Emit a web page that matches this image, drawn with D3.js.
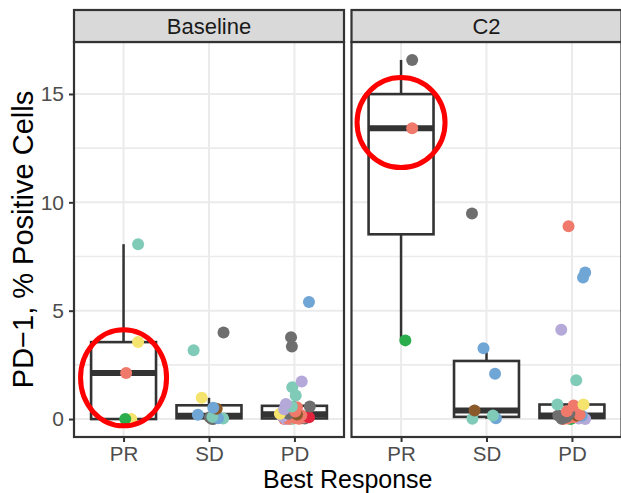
<!DOCTYPE html>
<html>
<head>
<meta charset="utf-8">
<script src="https://cdn.jsdelivr.net/npm/d3@7"></script>
<style>
  body { margin: 0; background: #fff; }
  svg { display: block; }
  text { font-family: "Liberation Sans", Arial, Helvetica, sans-serif; }
</style>
</head>
<body>
<svg id="chart" width="621" height="493"></svg>
<script>
// ---- data -------------------------------------------------------------
const panels = ["Baseline", "C2"];
const categories = ["PR", "SD", "PD"];
const yTicks = [0, 5, 10, 15];
const yMinorTicks = [2.5, 7.5, 12.5];

// each point: [PD-1 % positive cells, patient tone]
const baselinePR = [[8.07, "teal"], [3.55, "yellow"], [2.12, "salmon"], [0.00, "green"], [0.00, "yellow"]];
const baselineSD = [[3.99, "gray"], [3.17, "teal"], [0.98, "yellow"], [0.52, "blue"], [0.48, "brown"],
  [0.20, "blue"], [0.10, "teal"], [0.08, "gray"], [0.04, "blue"], [0.02, "teal"], [0.01, "gray"], [0.00, "gray"]];
const baselinePD = [[5.40, "blue"], [3.78, "gray"], [3.35, "gray"], [1.73, "purple"], [1.47, "teal"],
  [1.09, "teal"], [0.70, "purple"], [0.58, "gray"], [0.58, "teal"], [0.55, "salmon"], [0.45, "purple"],
  [0.35, "salmon"], [0.24, "yellow"], [0.24, "gray"], [0.21, "brown"], [0.18, "salmon"], [0.12, "purple"],
  [0.08, "crimson"], [0.07, "salmon"], [0.05, "salmon"], [0.03, "salmon"], [0.02, "gray"], [0.02, "salmon"],
  [0.01, "teal"], [0.01, "salmon"], [0.00, "purple"], [0.00, "salmon"], [0.00, "salmon"]];
const c2PR = [[16.57, "gray"], [13.42, "salmon"], [3.63, "green"]];
const c2SD = [[9.49, "gray"], [3.27, "blue"], [2.09, "blue"], [0.39, "brown"], [0.16, "teal"], [0.04, "blue"], [0.01, "teal"]];
const c2PD = [[8.90, "salmon"], [6.76, "blue"], [6.53, "blue"], [4.12, "purple"], [1.79, "teal"],
  [0.67, "teal"], [0.67, "yellow"], [0.62, "salmon"], [0.36, "salmon"], [0.25, "gray"], [0.20, "salmon"],
  [0.16, "gray"], [0.16, "gray"], [0.16, "brown"], [0.15, "blue"], [0.10, "gray"], [0.08, "salmon"],
  [0.05, "gray"], [0.03, "purple"], [0.02, "salmon"], [0.01, "gray"], [0.00, "salmon"], [0.00, "green"], [0.00, "purple"]];

// horizontal jitter per point, in category-step units
const baselinePRJitter = [0.17, 0.17, 0.03, 0.02, 0.09];
const baselineSDJitter = [0.17, -0.18, -0.085, 0.05, 0.09, -0.13, 0.04, 0.01, 0.105, 0.165, 0.03, 0.05];
const baselinePDJitter = [0.17, -0.04, -0.03, 0.085, -0.025, 0.015, -0.10, 0.18, -0.03, 0.03, -0.12,
  0.01, -0.17, -0.07, 0.03, 0.08, -0.14, 0.17, 0.10, 0.0, -0.08, 0.12, 0.04, -0.02, 0.06, -0.10, -0.12, -0.05];
const c2PRJitter = [0.13, 0.13, 0.05];
const c2SDJitter = [-0.17, -0.035, 0.10, -0.14, 0.075, 0.11, -0.165];
const c2PDJitter = [-0.04, 0.155, 0.13, -0.125, 0.05, -0.17, 0.135, 0.02, -0.06, -0.03, 0.09,
  -0.16, -0.08, 0.06, 0.115, -0.06, 0.02, -0.10, 0.08, -0.05, -0.12, -0.10, -0.015, 0.155];

// highlighted groups
const highlights = [
  { panel: "Baseline", category: "PR", value: 1.9 },
  { panel: "C2", category: "PR", value: 13.68 }
];

const tones = ["teal", "yellow", "salmon", "green", "gray", "blue", "purple", "brown", "crimson"];
const toneColors = ["#7fcbb8", "#f4e36c", "#ef7a6c", "#2aad4a", "#6e6e6e", "#6fa6d5", "#b4a9d8", "#8b5a2b", "#e2243f"];

const groups = [
  { panel: "Baseline", category: "PR", points: baselinePR, jitter: baselinePRJitter },
  { panel: "Baseline", category: "SD", points: baselineSD, jitter: baselineSDJitter },
  { panel: "Baseline", category: "PD", points: baselinePD, jitter: baselinePDJitter },
  { panel: "C2", category: "PR", points: c2PR, jitter: c2PRJitter },
  { panel: "C2", category: "SD", points: c2SD, jitter: c2SDJitter },
  { panel: "C2", category: "PD", points: c2PD, jitter: c2PDJitter }
];

// ---- layout -----------------------------------------------------------
const svg = d3.select("#chart");
const panelTop = 42, panelBottom = 437, stripTop = 10;
const panelX = { "Baseline": [74, 344], "C2": [351.5, 621.5] };
const ink = "#333333";

const color = d3.scaleOrdinal().domain(tones).range(toneColors);

const allValues = groups.flatMap(g => g.points.map(p => p[0]));
const [vMin, vMax] = d3.extent(allValues);
const pad = (vMax - vMin) * 0.05;
const y = d3.scaleLinear().domain([vMin - pad, vMax + pad]).range([panelBottom, panelTop]);

const xScales = {};
panels.forEach(p => {
  xScales[p] = d3.scalePoint().domain(categories).range(panelX[p]).padding(0.58);
});

function boxStats(vals) {
  const s = vals.slice().sort(d3.ascending);
  const q1 = d3.quantile(s, 0.25), med = d3.quantile(s, 0.5), q3 = d3.quantile(s, 0.75);
  const iqr = q3 - q1;
  const hi = d3.max(s.filter(v => v <= q3 + 1.5 * iqr));
  const lo = d3.min(s.filter(v => v >= q1 - 1.5 * iqr));
  return { q1, med, q3, hi, lo };
}

panels.forEach(p => {
  const [x0, x1] = panelX[p];
  const x = xScales[p];
  const step = x.step();
  const g = svg.append("g");

  // panel background and grid
  g.append("rect").attr("x", x0).attr("y", panelTop).attr("width", x1 - x0).attr("height", panelBottom - panelTop).attr("fill", "#fff");
  g.selectAll(".minor").data(yMinorTicks.filter(t => y(t) > panelTop && y(t) < panelBottom)).join("line")
    .attr("x1", x0).attr("x2", x1).attr("y1", d => y(d)).attr("y2", d => y(d))
    .attr("stroke", "#ebebeb").attr("stroke-width", 1.6);
  g.selectAll(".major").data(yTicks).join("line")
    .attr("x1", x0).attr("x2", x1).attr("y1", d => y(d)).attr("y2", d => y(d))
    .attr("stroke", "#ebebeb").attr("stroke-width", 2);
  g.selectAll(".vgrid").data(categories).join("line")
    .attr("x1", d => x(d)).attr("x2", d => x(d)).attr("y1", panelTop).attr("y2", panelBottom)
    .attr("stroke", "#ebebeb").attr("stroke-width", 2);

  // boxplots
  const bw = step * 0.76;
  groups.filter(d => d.panel === p).forEach(d => {
    const st = boxStats(d.points.map(v => v[0]));
    const cx = x(d.category);
    g.append("line").attr("x1", cx).attr("x2", cx).attr("y1", y(st.q3)).attr("y2", y(st.hi))
      .attr("stroke", ink).attr("stroke-width", 2.5);
    g.append("line").attr("x1", cx).attr("x2", cx).attr("y1", y(st.q1)).attr("y2", y(st.lo))
      .attr("stroke", ink).attr("stroke-width", 2.5);
    g.append("rect").attr("x", cx - bw / 2).attr("width", bw)
      .attr("y", y(st.q3)).attr("height", y(st.q1) - y(st.q3))
      .attr("fill", "#fff").attr("stroke", ink).attr("stroke-width", 2.6);
    g.append("line").attr("x1", cx - bw / 2).attr("x2", cx + bw / 2).attr("y1", y(st.med)).attr("y2", y(st.med))
      .attr("stroke", ink).attr("stroke-width", 6);
  });

  // jittered points
  groups.filter(d => d.panel === p).forEach(d => {
    const cx = x(d.category);
    g.selectAll(null).data(d.points.map((v, i) => ({ v: v[0], tone: v[1], j: d.jitter[i] })).reverse())
      .join("circle")
      .attr("cx", e => cx + e.j * step).attr("cy", e => y(e.v)).attr("r", 6)
      .attr("fill", e => color(e.tone));
  });

  // highlight rings
  highlights.filter(h => h.panel === p).forEach(h => {
    const big = h.panel === "C2";
    g.append("ellipse").attr("cx", x(h.category)).attr("cy", y(h.value))
      .attr("rx", big ? 44 : 43).attr("ry", big ? 45 : 48)
      .attr("fill", "none").attr("stroke", "#ff0000").attr("stroke-width", 5);
  });

  // panel border
  g.append("rect").attr("x", x0).attr("y", panelTop).attr("width", x1 - x0).attr("height", panelBottom - panelTop)
    .attr("fill", "none").attr("stroke", ink).attr("stroke-width", 2.2);

  // strip
  g.append("rect").attr("x", x0).attr("y", stripTop).attr("width", x1 - x0).attr("height", panelTop - stripTop)
    .attr("fill", "#d9d9d9").attr("stroke", ink).attr("stroke-width", 2.2);
  g.append("text").attr("x", (x0 + x1) / 2).attr("y", 34).attr("text-anchor", "middle")
    .attr("font-size", 22).attr("fill", "#1a1a1a").text(p);

  // x axis
  const xAxis = g.append("g").attr("transform", `translate(0,${panelBottom})`)
    .call(d3.axisBottom(x).tickSize(5).tickPadding(4));
  xAxis.select(".domain").remove();
  xAxis.selectAll(".tick line").attr("stroke", ink).attr("stroke-width", 2);
  xAxis.selectAll(".tick text").attr("font-size", 20.5).attr("fill", "#4d4d4d")
    .attr("font-family", "Liberation Sans, Arial, sans-serif").attr("dy", "0.71em");
});

// y axis
const yAxis = svg.append("g").attr("transform", `translate(${panelX.Baseline[0]},0)`)
  .call(d3.axisLeft(y).tickValues(yTicks).tickSize(5).tickPadding(5));
yAxis.select(".domain").remove();
yAxis.selectAll(".tick line").attr("stroke", ink).attr("stroke-width", 2);
yAxis.selectAll(".tick text").attr("font-size", 21).attr("fill", "#4d4d4d")
  .attr("font-family", "Liberation Sans, Arial, sans-serif");

// axis titles
svg.append("text").attr("x", (panelX.Baseline[0] + panelX.C2[1]) / 2).attr("y", 487.5)
  .attr("text-anchor", "middle").attr("font-size", 25).attr("fill", "#000").text("Best Response");
svg.append("text").attr("transform", `translate(33,${(panelTop + panelBottom) / 2}) rotate(-90)`)
  .attr("text-anchor", "middle").attr("font-size", 29).attr("fill", "#000").text("PD\u22121, % Positive Cells");
</script>
</body>
</html>
